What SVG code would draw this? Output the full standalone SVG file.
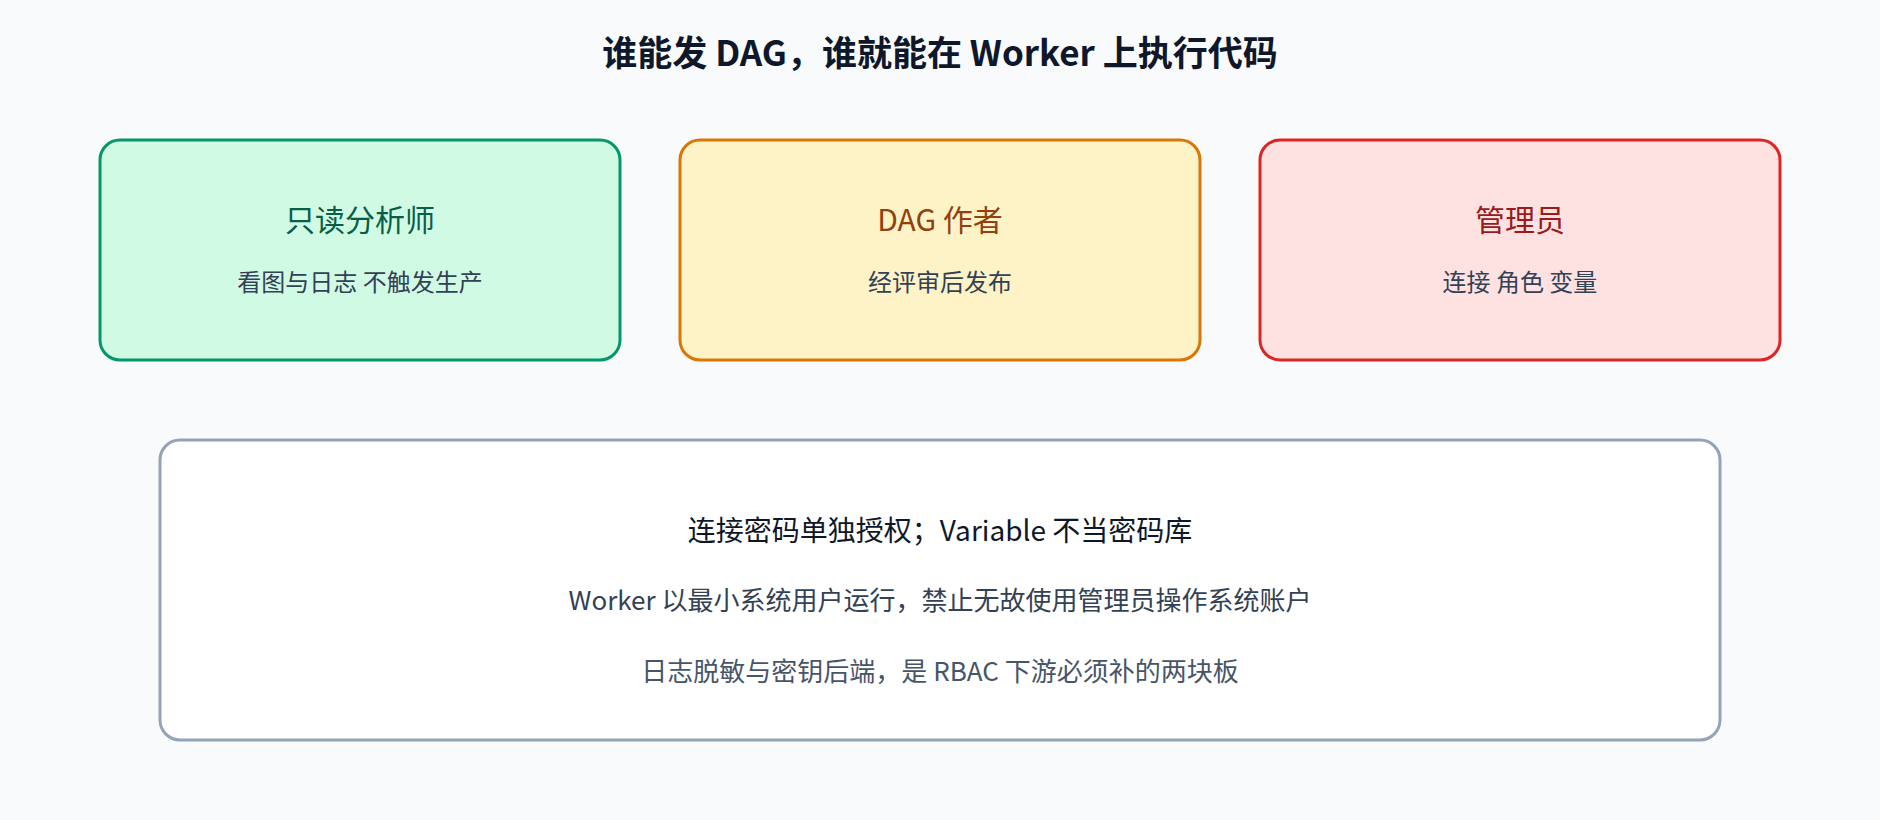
<svg xmlns="http://www.w3.org/2000/svg" width="1880" height="820" viewBox="0 0 1880 820">
<style>
text{font-family:"Noto Sans CJK SC","Noto Sans",sans-serif;text-anchor:middle}
.title{font-size:35px;font-weight:700;fill:#0f172a}
.box{stroke-width:3}
.h{font-size:30px}
.s{font-size:24px;fill:#334155}
.b1{font-size:28px;fill:#0f172a}
.b2{font-size:26px;fill:#334155}
.b3{font-size:26px;fill:#475569}
</style>
<rect width="1880" height="820" fill="#f8fafc"/>
<text class="title" x="940" y="66">谁能发 DAG，谁就能在 Worker 上执行代码</text>
<g id="node-analyst">
<rect class="box" x="100" y="140" width="520" height="220" rx="20" fill="#d1fae5" stroke="#059669"/>
<text class="h" x="360" y="231" fill="#065f46">只读分析师</text>
<text class="s" x="360" y="291">看图与日志 不触发生产</text>
</g>
<g id="node-author">
<rect class="box" x="680" y="140" width="520" height="220" rx="20" fill="#fef3c7" stroke="#d97706"/>
<text class="h" x="940" y="231" fill="#92400e">DAG 作者</text>
<text class="s" x="940" y="291">经评审后发布</text>
</g>
<g id="node-admin">
<rect class="box" x="1260" y="140" width="520" height="220" rx="20" fill="#fee2e2" stroke="#dc2626"/>
<text class="h" x="1520" y="231" fill="#991b1b">管理员</text>
<text class="s" x="1520" y="291">连接 角色 变量</text>
</g>
<g id="node-notes">
<rect class="box" x="160" y="440" width="1560" height="300" rx="20" fill="#ffffff" stroke="#94a3b8"/>
<text class="b1" x="940" y="541">连接密码单独授权；Variable 不当密码库</text>
<text class="b2" x="940" y="610">Worker 以最小系统用户运行，禁止无故使用管理员操作系统账户</text>
<text class="b3" x="940" y="681">日志脱敏与密钥后端，是 RBAC 下游必须补的两块板</text>
</g>
<g id="connectors"></g>
</svg>
